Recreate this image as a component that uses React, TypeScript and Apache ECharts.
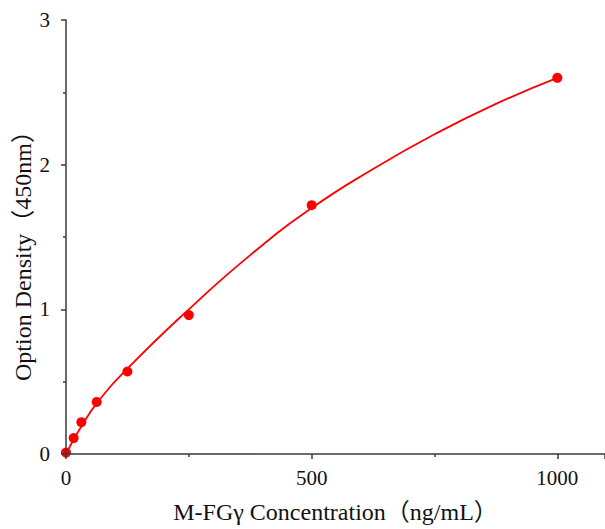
import React, { useEffect, useRef } from "react";
import * as echarts from "echarts";

const concentrations = [0, 15.6, 31.25, 62.5, 125, 250, 500, 1000];
const densities = [0.01, 0.11, 0.22, 0.36, 0.57, 0.96, 1.72, 2.6];

const fitX = [0, 15.6, 31.25, 62.5, 125, 250, 375, 500, 625, 750, 875, 1000];
const fitY = [0, 0.1, 0.19, 0.35, 0.59, 1.0, 1.375, 1.7, 1.97, 2.21, 2.42, 2.6];

const xTickLabels = ["0", "500", "1000"];
const yTickLabels = ["0", "1", "2", "3"];

const xName = "M-FGγ Concentration（ng/mL）";
const yName = "Option Density（450nm）";

const FONT = "'Liberation Serif', 'Times New Roman', 'Noto Sans CJK SC', serif";

export default function App() {
  const ref = useRef<HTMLDivElement>(null);
  useEffect(() => {
    if (!ref.current) return;
    const chart = echarts.init(ref.current, undefined, { renderer: "svg" });
    const axisLineStyle = { color: "#3a3a3a", width: 1.5 };
    chart.setOption({
      animation: false,
      backgroundColor: "#ffffff",
      grid: { left: 66, right: -3, top: 20, bottom: 73, containLabel: false },
      graphic: [
        {
          type: "text",
          x: 23,
          y: 250,
          rotation: Math.PI / 2,
          style: {
            text: yName,
            fontFamily: FONT,
            fontSize: 24,
            fill: "#111",
            align: "center",
            verticalAlign: "middle",
          },
        },
      ],
      xAxis: {
        type: "value",
        min: 0,
        max: 1097,
        interval: 500,
        z: 5,
        name: xName,
        nameLocation: "middle",
        nameGap: 46,
        nameTextStyle: { fontFamily: FONT, fontSize: 24, color: "#111" },
        axisLine: { show: true, onZero: false, lineStyle: axisLineStyle },
        axisTick: { show: true, inside: false, length: 5, lineStyle: axisLineStyle },
        minorTick: { show: true, splitNumber: 2, length: 3, lineStyle: axisLineStyle },
        splitLine: { show: false },
        axisLabel: {
          showMaxLabel: false,
          margin: 13,
          fontFamily: FONT,
          fontSize: 21,
          color: "#111",
          formatter: (v: number) => (xTickLabels.includes(String(v)) ? String(v) : ""),
        },
      },
      yAxis: {
        type: "value",
        min: 0,
        max: 3,
        interval: 1,
        z: 5,
        axisLine: { show: true, onZero: false, lineStyle: axisLineStyle },
        axisTick: { show: true, inside: false, length: 5, lineStyle: axisLineStyle },
        minorTick: { show: true, splitNumber: 2, length: 3, lineStyle: axisLineStyle },
        splitLine: { show: false },
        axisLabel: {
          margin: 16,
          fontFamily: FONT,
          fontSize: 21,
          color: "#111",
          formatter: (v: number) => (yTickLabels.includes(String(v)) ? String(v) : ""),
        },
      },
      series: [
        {
          type: "line",
          data: fitX.map((x, i) => [x, fitY[i]]),
          smooth: 0.5,
          showSymbol: false,
          symbol: "none",
          lineStyle: { color: "#ff0000", width: 1.8 },
          z: 2,
        },
        {
          type: "scatter",
          data: concentrations.map((x, i) => [x, densities[i]]),
          symbol: "circle",
          symbolSize: 10,
          itemStyle: { color: "#ff0000", opacity: 1 },
          z: 3,
        },
      ],
    });
    return () => chart.dispose();
  }, []);
  return (
    <div
      ref={ref}
      style={{ position: "fixed", left: 0, top: 0, width: 605, height: 529 }}
    />
  );
}
